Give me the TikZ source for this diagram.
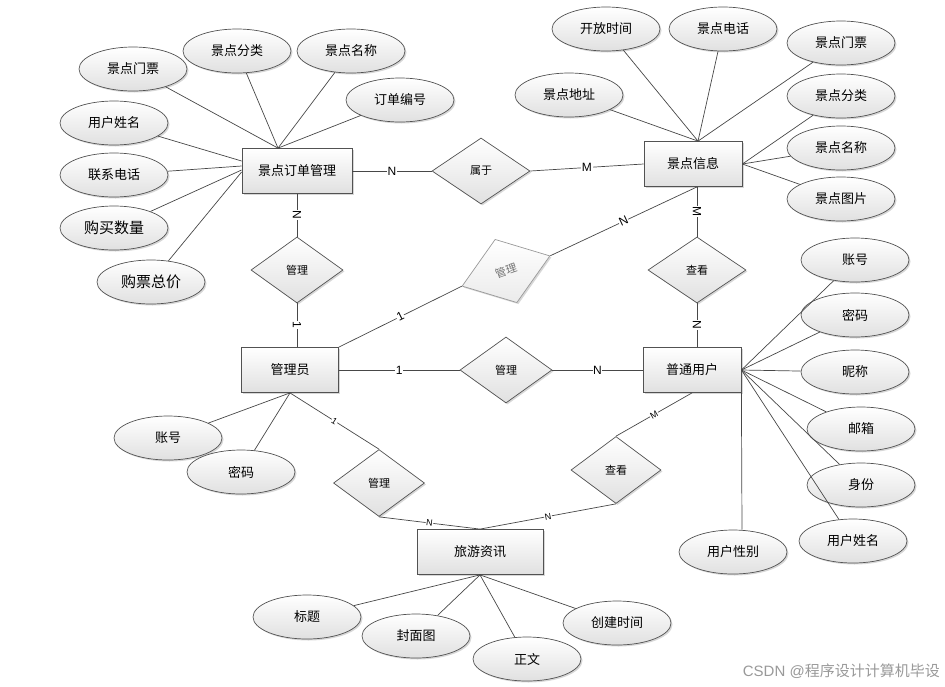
\documentclass[tikz,border=0pt]{standalone}
\usepackage{fontspec}
\setmainfont{Liberation Sans}
\newfontfamily\cjk{Noto Sans CJK SC}
\usetikzlibrary{shapes.geometric,shadows}

\begin{document}
\begin{tikzpicture}[x=1pt,y=-1pt,
    shadowed/.style={drop shadow={shadow xshift=1.5pt,shadow yshift=-1.5pt,fill=black!35,opacity=0.45}},
    line/.style={draw=black!72,line width=0.7pt},
    entity/.style={rectangle,draw=black!68,line width=0.8pt,top color=white,bottom color=black!12,minimum width=98pt,minimum height=45pt,inner sep=0pt,font=\cjk\fontsize{13}{15}\selectfont,shadowed},
    attr/.style={ellipse,draw=black!68,line width=0.7pt,top color=white,bottom color=black!12,minimum width=108pt,minimum height=44pt,inner sep=0pt,font=\cjk\fontsize{13}{15}\selectfont,shadowed},
    rel/.style={diamond,draw=black!68,line width=0.7pt,top color=white,bottom color=black!12,minimum width=92pt,minimum height=66pt,inner sep=0pt,font=\cjk\fontsize{11}{13}\selectfont,shadowed},
    card/.style={fill=white,inner sep=0.6pt,font=\fontsize{12}{13}\selectfont},
    cards/.style={card,font=\fontsize{9}{10}\selectfont}]
    \useasboundingbox (0,0) rectangle (945,686);
    % entities
    \node[entity,minimum width=110pt] (ddgl) at (297,171) {景点订单管理};
    \node[entity] (jdxx) at (693,164) {景点信息};
    \node[entity,minimum width=97pt] (gly) at (290,370) {管理员};
    \node[entity] (ptyh) at (692,370) {普通用户};
    \node[entity,minimum width=126pt] (lyzx) at (480,552) {旅游资讯};
    % relationships
    \node[rel,minimum width=98pt] (sy) at (481,171) {属于};
    \node[rel] (gla) at (297,270) {管理};
    \node[rel,rotate=19,minimum width=93pt,minimum height=67pt,draw=black!40,text=black!55,bottom color=black!8] (glb) at (506,271) {管理};
    \node[rel,minimum width=98pt] (cka) at (697,270) {查看};
    \node[rel] (glc) at (506,370) {管理};
    \node[rel,minimum width=91pt,minimum height=67pt] (gld) at (379,483) {管理};
    \node[rel,minimum width=90pt,minimum height=67pt] (ckb) at (616,470) {查看};
    \coordinate (jdxx-b) at (jdxx.south -| cka.north);
    % cardinalities
    \draw[line] (ddgl.east) -- node[card]{N} (sy.west);
    \draw[line] (sy.east) -- node[card]{M} (jdxx.west);
    \draw[line] (ddgl.south) -- node[card,sloped]{N} (gla.north);
    \draw[line] (gla.south) -- node[card,sloped]{1} (gla.south |- gly.north);
    \draw[line] (gly.north east) -- node[card,sloped]{1} (glb.west);
    \draw[line] (glb.east) -- node[card,sloped]{N} (jdxx-b);
    \draw[line] (jdxx-b) -- node[card,sloped]{M} (cka.north);
    \draw[line] (cka.south) -- node[card,sloped]{N} (cka.south |- ptyh.north);
    \draw[line] (gly.east) -- node[card]{1} (glc.west);
    \draw[line] (glc.east) -- node[card]{N} (ptyh.west);
    \draw[line] (gly.south) -- node[cards,sloped]{1} (gld.north);
    \draw[line] (gld.south) -- node[cards,sloped]{N} (lyzx.north);
    \draw[line] (ckb.south) -- node[cards,sloped]{N} (lyzx.north);
    \draw[line] (ptyh.south) -- node[cards,sloped]{M} (ckb.north);
    % attributes of 景点订单管理
    \node[attr] (dd-mp) at (133,69) {景点门票};
    \node[attr] (dd-fl) at (237,51) {景点分类};
    \node[attr] (dd-mc) at (351,51) {景点名称};
    \node[attr] (dd-bh) at (400,100) {订单编号};
    \node[attr] (dd-xm) at (114,123) {用户姓名};
    \node[attr] (dd-dh) at (114,175) {联系电话};
    \node[attr,font=\cjk\fontsize{15}{17}\selectfont] (dd-sl) at (114,228) {购买数量};
    \node[attr,font=\cjk\fontsize{15}{17}\selectfont] (dd-zj) at (151,282) {购票总价};
    \coordinate (ddgl-t) at ([xshift=-19pt]ddgl.north);
    \foreach \a in {dd-mp,dd-fl,dd-mc,dd-bh}
        \draw[line] (\a) -- (ddgl-t);
    \draw[line] (dd-xm) -- ([yshift=10pt]ddgl.west);
    \draw[line] (dd-dh) -- ([yshift=5pt]ddgl.west);
    \draw[line] (dd-sl) -- ([yshift=1pt]ddgl.west);
    \draw[line] (dd-zj) -- ([yshift=-1pt]ddgl.west);
    % attributes of 景点信息
    \node[attr] (jd-sj) at (606,29) {开放时间};
    \node[attr] (jd-dh) at (723,29) {景点电话};
    \node[attr] (jd-mp) at (841,43) {景点门票};
    \node[attr] (jd-dz) at (569,95) {景点地址};
    \node[attr] (jd-fl) at (841,96) {景点分类};
    \node[attr] (jd-mc) at (841,148) {景点名称};
    \node[attr] (jd-tp) at (841,199) {景点图片};
    \coordinate (jdxx-t) at ([xshift=5pt]jdxx.north);
    \foreach \a in {jd-sj,jd-dh,jd-mp,jd-dz}
        \draw[line] (\a) -- (jdxx-t);
    \foreach \a in {jd-fl,jd-mc,jd-tp}
        \draw[line] (\a) -- (jdxx.east);
    % attributes of 普通用户
    \node[attr] (yh-zh) at (855,260) {账号};
    \node[attr] (yh-mm) at (855,315) {密码};
    \node[attr] (yh-nc) at (855,372) {昵称};
    \node[attr] (yh-yx) at (861,429) {邮箱};
    \node[attr] (yh-sf) at (861,485) {身份};
    \node[attr] (yh-xm) at (853,541) {用户姓名};
    \node[attr] (yh-xb) at (733,552) {用户性别};
    \foreach \a in {yh-zh,yh-mm,yh-nc,yh-yx,yh-sf,yh-xm}
        \draw[line] (\a) -- (ptyh.east);
    \draw[line] ([xshift=9pt]yh-xb.north) -- (ptyh.south east);
    % attributes of 管理员
    \node[attr] (gl-zh) at (168,438) {账号};
    \node[attr] (gl-mm) at (241,472) {密码};
    \foreach \a in {gl-zh,gl-mm}
        \draw[line] (\a) -- (gly.south);
    % attributes of 旅游资讯
    \node[attr] (zx-bt) at (307,617) {标题};
    \node[attr] (zx-fm) at (416,636) {封面图};
    \node[attr] (zx-zw) at (527,659) {正文};
    \node[attr] (zx-sj) at (617,623) {创建时间};
    \foreach \a in {zx-bt,zx-fm,zx-zw,zx-sj}
        \draw[line] (\a) -- (lyzx.south);
    % watermark
    \node[anchor=east,text=black!40,font=\fontsize{15}{17}\selectfont,inner sep=0pt] (wm) at (940,671) {CSDN @{\cjk 程序设计计算机毕设}};
\end{tikzpicture}
\end{document}
